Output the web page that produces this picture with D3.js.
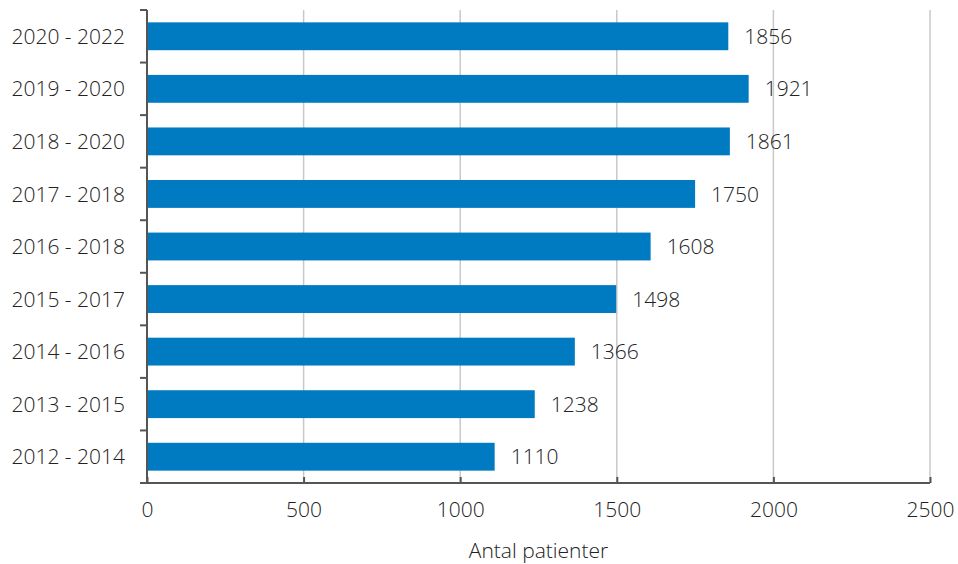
<!DOCTYPE html>
<html><head><meta charset="utf-8">
<script src="https://cdn.jsdelivr.net/npm/d3@7"></script>
<style>
body{margin:0;background:#fff;}
text{font-family:"Open Sans",sans-serif;font-weight:300;fill:#222;}
</style></head>
<body><svg id="c" width="958" height="564"></svg>
<script>
const categories = ["2020 - 2022","2019 - 2020","2018 - 2020","2017 - 2018","2016 - 2018","2015 - 2017","2014 - 2016","2013 - 2015","2012 - 2014"];
const values = [1856,1921,1861,1750,1608,1498,1366,1238,1110];
const xTicks = [0,500,1000,1500,2000,2500];
const xTitle = "Antal patienter";

const FS = 21;
const svg = d3.select("#c");
const L = 147, R = 930, T = 10, B = 483;
const x = d3.scaleLinear().domain([0,2500]).range([L,R]);
const y = d3.scaleBand().domain(categories).range([T,B]).paddingInner(0.47).paddingOuter(0.235);
const yb = d3.scaleBand().domain(categories).range([T,B]);

// gridlines
svg.append("g").selectAll("line").data(xTicks.filter(d=>d>0)).join("line")
  .attr("x1",d=>x(d)).attr("x2",d=>x(d)).attr("y1",T).attr("y2",B)
  .attr("stroke","#c8c8c8").attr("stroke-width",1.5);

// bars
svg.append("g").selectAll("rect").data(values).join("rect")
  .attr("x",x(0)).attr("y",(d,i)=>y(categories[i]))
  .attr("width",d=>x(d)-x(0)).attr("height",y.bandwidth())
  .attr("fill","#007ac0");

// value labels
svg.append("g").selectAll("text").data(values).join("text")
  .attr("x",d=>x(d)+16).attr("y",(d,i)=>y(categories[i])+y.bandwidth()/2)
  .attr("dy","0.36em").attr("font-size",FS).text(d=>d);

// x axis
const xa = svg.append("g").attr("transform",`translate(0,${B})`)
  .call(d3.axisBottom(x).tickValues(xTicks).tickFormat(d3.format("d")).tickSize(-6).tickPadding(13).tickSizeOuter(0));
xa.select(".domain").remove();
xa.append("line").attr("x1",L-7).attr("x2",R).attr("y1",0).attr("y2",0).attr("stroke","#555").attr("stroke-width",2);
xa.selectAll(".tick line").attr("stroke","#555").attr("stroke-width",2);
xa.selectAll(".tick text").attr("font-size",FS).attr("fill","#222").attr("font-family",null).attr("dy","1.0em");

// y axis
const ya = svg.append("g").attr("transform",`translate(${L},0)`);
ya.append("line").attr("x1",0).attr("x2",0).attr("y1",T).attr("y2",B).attr("stroke","#555").attr("stroke-width",2);
const bounds = categories.map(c=>yb(c)).concat([B]);
ya.selectAll("line.t").data(bounds).join("line").attr("class","t")
  .attr("x1",-7).attr("x2",0).attr("y1",d=>d).attr("y2",d=>d).attr("stroke","#555").attr("stroke-width",2);
ya.selectAll("text").data(categories).join("text")
  .attr("x",-22).attr("y",d=>y(d)+y.bandwidth()/2).attr("dy","0.36em")
  .attr("text-anchor","end").attr("font-size",FS).text(d=>d);

// x title
svg.append("text").attr("x",x(1250)).attr("y",558).attr("text-anchor","middle")
  .attr("font-size",FS).text(xTitle);
</script></body></html>
